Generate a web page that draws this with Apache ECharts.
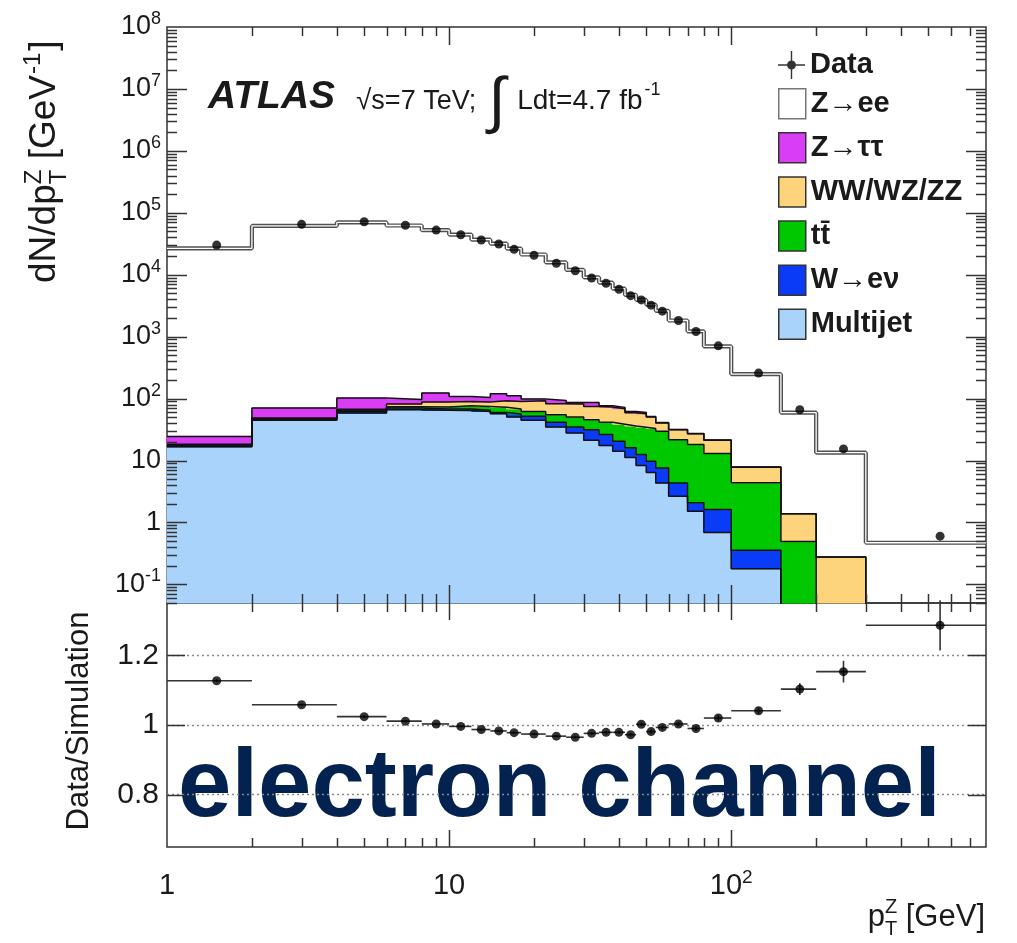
<!DOCTYPE html>
<html>
<head>
<meta charset="utf-8">
<title>Z boson transverse momentum, electron channel</title>
<script src="https://cdn.jsdelivr.net/npm/echarts@6/dist/echarts.min.js"></script>
<style>
html, body { margin: 0; padding: 0; background: #ffffff; }
#chart { width: 1017px; height: 943px; }
</style>
</head>
<body>
<div id="chart"></div>
<script>
// Histogram bin edges in pT^Z [GeV]
const binEdges = [1, 2, 4, 6, 8, 10, 12, 14, 16, 18, 22, 26, 30, 34, 38, 42, 46, 50, 54, 60, 70, 80, 100, 150, 200, 300, 800];

// Measured distribution (marker position, dN/dpT)
const dataX = [1.5, 3, 5, 7, 9, 11, 13, 15, 17, 20, 24, 28, 32, 36, 40, 44, 48, 52, 57, 65, 75, 90, 125, 175, 250, 550];
const dataY = [30100, 65000, 71600, 63000, 52600, 44200, 36300, 31300, 25700, 20600, 15300, 11600, 8850, 7280, 5820, 4590, 3920, 3220, 2580, 1820, 1210, 711, 258, 66.1, 15.4, 0.60];

// Data / simulation ratio and its uncertainty
const ratioY = [1.127, 1.058, 1.024, 1.011, 1.003, 0.996, 0.987, 0.983, 0.978, 0.974, 0.968, 0.965, 0.976, 0.979, 0.979, 0.972, 1.002, 0.981, 0.993, 1.003, 0.990, 1.020, 1.041, 1.103, 1.153, 1.286];
const ratioErr = [0.004, 0.003, 0.003, 0.003, 0.003, 0.003, 0.003, 0.003, 0.003, 0.003, 0.003, 0.004, 0.004, 0.004, 0.005, 0.005, 0.005, 0.006, 0.006, 0.006, 0.007, 0.008, 0.009, 0.017, 0.031, 0.072];

// Simulated contributions per bin
const zee      = [26700, 61300, 69800, 62200, 52300, 44300, 36700, 31700, 26200, 21100, 15700, 11900, 9000, 7360, 5870, 4660, 3850, 3230, 2570, 1790, 1190, 675, 240, 58, 13.1, 0.47];
const multijet = [16.6, 44.5, 58.3, 66.2, 64.5, 64.0, 62.1, 57.0, 50.5, 44.5, 34.8, 27.9, 21.2, 17.4, 14.1, 11.2, 8.3, 6.4, 4.35, 2.65, 1.52, 0.69, 0.179, 0, 0, 0];
const wenu     = [0.8, 2.0, 3.2, 4.5, 3.4, 3.9, 2.4, 2.8, 5.9, 7.1, 6.5, 6.9, 10.3, 8.8, 6.3, 4.8, 4.2, 3.3, 3.25, 1.7, 0.55, 0.93, 0.178, 0, 0, 0];
const ttbar    = [0.3, 0.8, 2.0, 3.3, 5.2, 8.8, 10.3, 12.3, 11.5, 10.5, 13.6, 15.7, 14.1, 15.1, 18.1, 20, 22, 23.3, 22, 17.35, 16.0, 11.4, 4.0, 0.49, 0, 0];
const diboson  = [0.6, 1.3, 3.8, 7.7, 15, 13.3, 13.3, 20, 22, 30, 27.7, 31.2, 29.2, 31.7, 30.2, 23, 22.5, 17.5, 10.8, 9.8, 8.9, 8.2, 3.45, 0.89, 0.276, 0];
const ztautau  = [6.2, 21.8, 34.7, 15.3, 35, 18, 16.3, 28, 21, 6, 10.8, 5, 11.9, 3.7, 3.4, 3, 2.8, 0.8, 0.5, 0.3, 0.2, 0.15, 0.05, 0, 0, 0];

// Axis label values
const yMainLabels = [0.1, 1, 10, 100, 1e3, 1e4, 1e5, 1e6, 1e7, 1e8];
const xLabels = [1, 10, 100];
const ratioLabels = [0.8, 1, 1.2];

const FONT = "'Liberation Sans', Arial, Helvetica, sans-serif";
const X_MIN = 1, X_MAX = 800, Y_MIN = 0.05, Y_MAX = 1e8;
const INK = '#1a1a1a';

// Stack layers from the bottom up
const layers = [
  { name: 'Multijet', values: multijet, color: '#a9d3fb' },
  { name: 'W→eν', values: wenu, color: '#0a3cf8' },
  { name: 'tt\u0304', values: ttbar, color: '#00c800' },
  { name: 'WW/WZ/ZZ', values: diboson, color: '#fdd47c' },
  { name: 'Z→ττ', values: ztautau, color: '#d93ef6' }
];
let acc = binEdges.slice(1).map(() => 0);
layers.forEach(l => {
  l.bottom = acc.slice();
  acc = acc.map((a, i) => a + l.values[i]);
  l.top = acc.slice();
});
const totalMC = acc.map((a, i) => a + zee[i]);

function stepPoints(tops) {
  const pts = [];
  tops.forEach((t, i) => {
    const y = t > 0 ? t : 1e-4;
    pts.push([binEdges[i], y], [binEdges[i + 1], y]);
  });
  return pts;
}

function fillSeries(l) {
  const data = [];
  l.values.forEach((v, i) => {
    if (v > 0) data.push([binEdges[i], binEdges[i + 1], Math.max(l.bottom[i], Y_MIN), l.top[i]]);
  });
  return {
    type: 'custom', name: l.name, xAxisIndex: 0, yAxisIndex: 0, z: 2, silent: true,
    itemStyle: { color: l.color },
    encode: { x: 0, y: 3 },
    data,
    renderItem(params, api) {
      const t = api.value(3);
      if (t <= Y_MIN) return null;
      const p0 = api.coord([api.value(0), t]);
      const p1 = api.coord([api.value(1), api.value(2)]);
      const cs = params.coordSys;
      const shape = echarts.graphic.clipRectByRect(
        { x: p0[0], y: p0[1], width: p1[0] - p0[0], height: p1[1] - p0[1] },
        { x: cs.x, y: cs.y, width: cs.width, height: cs.height });
      if (!shape) return null;
      return { type: 'rect', shape, style: { fill: l.color, stroke: l.color, lineWidth: 1 } };
    }
  };
}

function outlineSeries(tops, color, width, z, name) {
  const s = {
    type: 'line', xAxisIndex: 0, yAxisIndex: 0, data: stepPoints(tops), symbol: 'none',
    z, silent: true, clip: true, lineStyle: { color, width }, itemStyle: { color }
  };
  if (name) s.name = name;
  return s;
}

// Logarithmic tick values (1..9 per decade) inside a range
function logTicks(lo, hi) {
  const out = [];
  for (let e = Math.floor(Math.log10(lo)); e <= Math.ceil(Math.log10(hi)); e++) {
    for (let m = 1; m <= 9; m++) {
      const v = m * Math.pow(10, e);
      if (v >= lo * 0.999 && v <= hi * 1.001) out.push([v, m === 1 ? 1 : 0]);
    }
  }
  return out;
}

function tickSeries(gridIdx, items, len) {
  return {
    type: 'custom', xAxisIndex: gridIdx, yAxisIndex: gridIdx, z: 8, silent: true,
    data: items,
    renderItem(params, api) {
      const cs = params.coordSys;
      const p = api.coord([api.value(0), api.value(1)]);
      const horizontal = api.value(2) === 0;
      const major = api.value(3) === 1;
      const st = { stroke: '#333', lineWidth: 1.5 };
      const kids = [];
      if (horizontal) {
        const L = major ? len.xMaj : len.xMin;
        const x = Math.round(p[0]) + 0.5;
        kids.push({ type: 'line', shape: { x1: x, y1: cs.y + cs.height, x2: x, y2: cs.y + cs.height - L }, style: st });
        kids.push({ type: 'line', shape: { x1: x, y1: cs.y, x2: x, y2: cs.y + L }, style: st });
      } else {
        const L = major ? len.yMaj : len.yMin;
        const y = Math.round(p[1]) + 0.5;
        kids.push({ type: 'line', shape: { x1: cs.x, y1: y, x2: cs.x + L, y2: y }, style: st });
        kids.push({ type: 'line', shape: { x1: cs.x + cs.width, y1: y, x2: cs.x + cs.width - L, y2: y }, style: st });
      }
      return { type: 'group', children: kids };
    }
  };
}

const mainTicks = logTicks(X_MIN, X_MAX).filter(t => t[0] > X_MIN && t[0] < X_MAX).map(t => [t[0], 1000, 0, t[1]])
  .concat(logTicks(Y_MIN, Y_MAX).filter(t => t[0] < Y_MAX).map(t => [10, t[0], 1, t[1]]));
const ratioTicks = logTicks(X_MIN, X_MAX).filter(t => t[0] > X_MIN && t[0] < X_MAX).map(t => [t[0], 1, 0, t[1]])
  .concat(ratioLabels.map(v => [10, v, 1, 1]));

// Text layout helpers for annotations built from several runs
const measureCtx = document.createElement('canvas').getContext('2d');
function fontOf(p) { return `${p.style || 'normal'} ${p.weight || 'normal'} ${p.size}px ${FONT}`; }
function textWidth(t, font) { measureCtx.font = font; return measureCtx.measureText(t).width; }
function layoutRun(pieces) {
  let x = 0;
  const els = [];
  pieces.forEach(p => {
    const font = fontOf(p);
    const w = textWidth(p.t, font);
    els.push({
      type: 'text', x: x + (p.dx || 0), y: (p.dy || 0) - 0.3465 * p.size,
      style: { text: p.t, font, fill: p.color || INK, align: 'left', verticalAlign: 'middle' }
    });
    if (!p.stack) x += w + (p.dx || 0);
  });
  return { els, width: x };
}

const atlas = layoutRun([{ t: 'ATLAS', size: 39, weight: 'bold', style: 'italic' }]);
const energy = layoutRun([
  { t: '√', size: 28 },
  { t: 's=7 TeV;', size: 27 },
  { t: '∫', size: 62, dy: 14, dx: 12 },
  { t: 'Ldt=4.7 fb', size: 28, dx: 12 },
  { t: '-1', size: 18, dy: -15, dx: 2 }
]);
const xTitle = layoutRun([
  { t: 'p', size: 31 },
  { t: 'Z', size: 20, dy: -14, stack: true },
  { t: 'T', size: 20, dy: 8 },
  { t: ' [GeV]', size: 31 }
]);
const yTitle = layoutRun([
  { t: 'dN/dp', size: 37 },
  { t: 'Z', size: 24, dy: -15, stack: true },
  { t: 'T', size: 24, dy: 10 },
  { t: ' [GeV', size: 37 },
  { t: '-1', size: 24, dy: -16, dx: 1 },
  { t: ']', size: 37, dx: 2 }
]);
const rTitle = layoutRun([{ t: 'Data/Simulation', size: 31 }]);
const channel = layoutRun([{ t: 'electron channel', size: 96, weight: 'bold', color: '#03224f' }]);

const mainLabelRich = {
  b: { fontSize: 27, fontFamily: FONT, color: INK, lineHeight: 34 },
  s: { fontSize: 18, fontFamily: FONT, color: INK, lineHeight: 16, verticalAlign: 'top' }
};
const xLabelRich = {
  b: { fontSize: 29, fontFamily: FONT, color: INK, lineHeight: 36 },
  s: { fontSize: 19, fontFamily: FONT, color: INK, lineHeight: 18, verticalAlign: 'top' }
};
function powLabel(v) {
  const e = Math.round(Math.log10(v));
  if (e === 0) return '{b|1}';
  if (e === 1) return '{b|10}';
  return '{b|10}{s|' + e + '}';
}

const hidden = { axisLine: { show: false }, axisTick: { show: false }, splitLine: { show: false }, minorTick: { show: false } };

const series = [];
layers.forEach(l => series.push(fillSeries(l)));
layers.forEach(l => series.push(outlineSeries(l.top, '#111', 1.5, 3)));
series.push(outlineSeries(totalMC, '#505050', 4.2, 4, 'Z→ee'));
series.push(outlineSeries(totalMC, '#ffffff', 1.3, 5));
series.push({
  type: 'scatter', name: 'Data', xAxisIndex: 0, yAxisIndex: 0, z: 6, silent: true,
  symbol: 'circle', symbolSize: 9, itemStyle: { color: '#000' },
  data: dataX.map((x, i) => [x, dataY[i]])
});
series.push(tickSeries(0, mainTicks, { xMaj: 18, xMin: 9, yMaj: 20, yMin: 10 }));

// Ratio panel
series.push({
  type: 'custom', xAxisIndex: 1, yAxisIndex: 1, z: 5, silent: true,
  encode: { x: 2, y: 3 },
  data: ratioY.map((r, i) => [binEdges[i], binEdges[i + 1], dataX[i], r, ratioErr[i]]),
  renderItem(params, api) {
    const r = api.value(3), e = api.value(4);
    const a = api.coord([api.value(0), r]), b = api.coord([api.value(1), r]);
    const c1 = api.coord([api.value(2), r - e]), c2 = api.coord([api.value(2), r + e]);
    const st = { stroke: '#333', lineWidth: 1.6 };
    return {
      type: 'group', children: [
        { type: 'line', shape: { x1: a[0], y1: a[1], x2: b[0], y2: b[1] }, style: st },
        { type: 'line', shape: { x1: c1[0], y1: c1[1], x2: c2[0], y2: c2[1] }, style: st }
      ]
    };
  }
});
series.push({
  type: 'scatter', xAxisIndex: 1, yAxisIndex: 1, z: 6, silent: true,
  symbol: 'circle', symbolSize: 9, itemStyle: { color: '#000' },
  data: dataX.map((x, i) => [x, ratioY[i]]),
  markLine: {
    silent: true, symbol: ['none', 'none'], label: { show: false }, animation: false,
    lineStyle: { type: [2, 3], color: '#8a8a8a', width: 1.3 },
    data: ratioLabels.map(v => ({ yAxis: v }))
  }
});
series.push(tickSeries(1, ratioTicks, { xMaj: 17, xMin: 9, yMaj: 18, yMin: 9 }));

const legendText = { fontFamily: FONT, fontWeight: 'bold', fontSize: 29, color: INK, lineHeight: 30 };

const option = {
  animation: false,
  backgroundColor: '#ffffff',
  grid: [
    { left: 167, top: 27, width: 819, height: 576, show: true, borderColor: '#333', borderWidth: 1.5, backgroundColor: 'transparent', outerBoundsMode: 'none' },
    { left: 167, top: 603, width: 819, height: 244, show: true, borderColor: '#333', borderWidth: 1.5, backgroundColor: 'transparent', outerBoundsMode: 'none' }
  ],
  xAxis: [
    Object.assign({ type: 'log', logBase: 10, gridIndex: 0, min: X_MIN, max: X_MAX, axisLabel: { show: false } }, hidden),
    Object.assign({
      type: 'log', logBase: 10, gridIndex: 1, min: X_MIN, max: X_MAX,
      axisLabel: { customValues: xLabels, formatter: powLabel, rich: xLabelRich, margin: 21 }
    }, hidden)
  ],
  yAxis: [
    Object.assign({
      type: 'log', logBase: 10, gridIndex: 0, min: Y_MIN, max: Y_MAX,
      axisLabel: { customValues: yMainLabels, formatter: powLabel, rich: mainLabelRich, margin: 6 }
    }, hidden),
    Object.assign({
      type: 'value', gridIndex: 1, min: 0.65, max: 1.35,
      axisLabel: {
        customValues: ratioLabels, margin: 8,
        formatter: v => (Math.abs(v - 1) < 1e-9 ? '1' : v.toFixed(1)),
        fontSize: 30, fontFamily: FONT, color: INK
      }
    }, hidden)
  ],
  legend: [
    {
      data: [{ name: 'Data', icon: 'path://M0,14.3H27V15.7H0Z M12.8,1H14.2V29H12.8Z M9,15A4.5,4.5 0 1,1 18,15A4.5,4.5 0 1,1 9,15Z' }],
      left: 778, top: 50, orient: 'vertical', itemWidth: 27, itemHeight: 30, padding: 0,
      selectedMode: false, textStyle: legendText
    },
    {
      data: [
        { name: 'Z→ee', icon: 'rect', itemStyle: { color: '#ffffff', borderColor: '#777', borderWidth: 1.5 } },
        { name: 'Z→ττ', icon: 'rect' },
        { name: 'WW/WZ/ZZ', icon: 'rect' },
        { name: 'tt\u0304', icon: 'rect' },
        { name: 'W→eν', icon: 'rect' },
        { name: 'Multijet', icon: 'rect' }
      ],
      left: 778, top: 88, orient: 'vertical', itemWidth: 27, itemHeight: 30, itemGap: 12.6, padding: 0,
      selectedMode: false, textStyle: legendText,
      itemStyle: { borderColor: '#333', borderWidth: 1.5 }
    }
  ],
  graphic: [
    { type: 'group', x: 208, y: 111, children: atlas.els },
    { type: 'group', x: 356, y: 111, children: energy.els },
    { type: 'group', x: 985 - xTitle.width, y: 928, children: xTitle.els },
    { type: 'group', x: 58, y: 283, rotation: Math.PI / 2, children: yTitle.els },
    { type: 'group', x: 90, y: 721 + rTitle.width / 2, rotation: Math.PI / 2, children: rTitle.els },
    { type: 'group', x: 178, y: 823, z: 100, children: channel.els }
  ],
  series
};

const chart = echarts.init(document.getElementById('chart'), null, { renderer: 'canvas' });
chart.setOption(option);
</script>
</body>
</html>
